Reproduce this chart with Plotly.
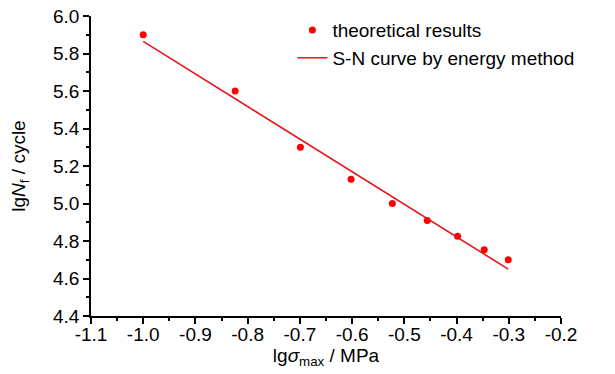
import plotly.graph_objects as go

# data
lg_sigma = [-1.0, -0.824, -0.699, -0.602, -0.523, -0.456, -0.398, -0.347, -0.301]
lg_N = [5.90, 5.60, 5.30, 5.13, 5.00, 4.91, 4.825, 4.754, 4.70]
curve_x = [-1.0, -0.301]
curve_y = [5.865, 4.65]
x_ticks = [-1.1, -1.0, -0.9, -0.8, -0.7, -0.6, -0.5, -0.4, -0.3, -0.2]
x_ticklabels = ["-1.1", "-1.0", "-0.9", "-0.8", "-0.7", "-0.6", "-0.5", "-0.4", "-0.3", "-0.2"]
y_ticks = [4.4, 4.6, 4.8, 5.0, 5.2, 5.4, 5.6, 5.8, 6.0]
y_ticklabels = ["4.4", "4.6", "4.8", "5.0", "5.2", "5.4", "5.6", "5.8", "6.0"]

font = "Liberation Sans, Arial, sans-serif"

fig = go.Figure()
fig.add_trace(go.Scatter(
    x=lg_sigma, y=lg_N, mode="markers", name="theoretical results",
    marker=dict(color="#ff0000", size=7),
))
fig.add_trace(go.Scatter(
    x=curve_x, y=curve_y, mode="lines", name="S-N curve by energy method",
    line=dict(color="#e8161c", width=1.6),
))

axis_common = dict(
    showgrid=False, zeroline=False, showline=True, linecolor="black", linewidth=1.5,
    ticks="outside", ticklen=6, tickwidth=1.5, tickcolor="black",
    tickfont=dict(family=font, size=19, color="black"),
    minor=dict(ticks="outside", ticklen=3, tickwidth=1.5, tickcolor="black"),
    automargin=False, ticklabeloverflow="allow",
)

fig.update_xaxes(
    range=[-1.1, -0.2], tickvals=x_ticks, ticktext=x_ticklabels,
    ticklabelstandoff=-6,
    title=dict(text="lg<i>σ</i><sub>max</sub> / MPa", font=dict(family=font, size=19, color="black"), standoff=0),
    minor_dtick=0.05, minor_tick0=-1.1, **axis_common,
)
fig.update_yaxes(
    range=[4.4, 6.0], tickvals=y_ticks, ticktext=y_ticklabels,
    title=dict(text="lg<i>N</i><sub>f</sub> / cycle", font=dict(family=font, size=19, color="black"), standoff=28),
    minor_dtick=0.1, minor_tick0=4.4, **axis_common,
)

# page body has an 8px default margin, so the figure is sized/offset to compensate
fig.update_layout(
    width=607, height=366,
    margin=dict(l=83, r=54, t=8, b=58, autoexpand=False),
    plot_bgcolor="white", paper_bgcolor="white",
    legend=dict(x=0.4285, y=1.016, xanchor="left", yanchor="top",
                font=dict(family=font, size=19, color="black"),
                bgcolor="rgba(0,0,0,0)", tracegroupgap=0, itemwidth=30),
    showlegend=True,
)

fig.write_html("out.html")
